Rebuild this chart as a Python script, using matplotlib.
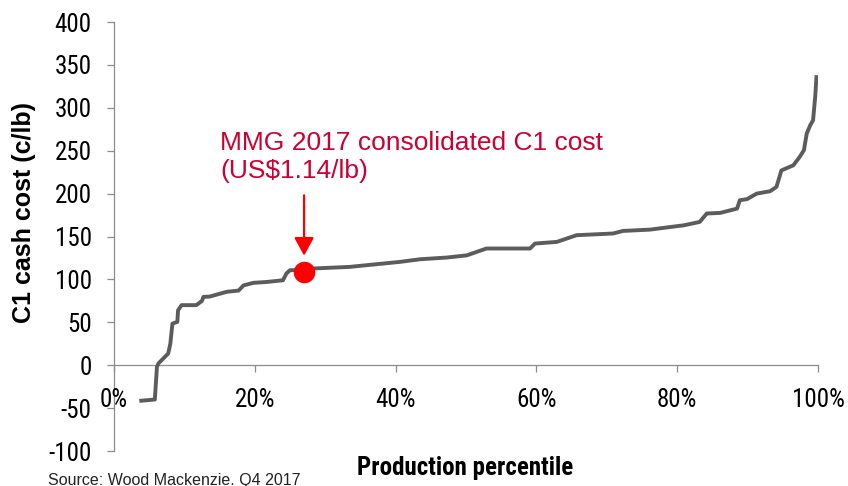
import matplotlib
matplotlib.use("Agg")
import matplotlib.pyplot as plt

# ---- data ----
pct = [3.6, 5.8, 6.1, 6.3, 7.7, 8.0, 8.3, 9.0, 9.1, 9.6, 11.7, 12.5, 12.7, 13.6,
       16.0, 17.7, 18.4, 19.8, 21.7, 24.0, 24.5, 25.0, 27.0, 28.3, 33.5, 40.6,
       43.5, 47.3, 50.1, 52.9, 59.1, 59.8, 62.9, 65.7, 70.9, 72.3, 76.1, 80.9,
       83.2, 84.2, 86.1, 88.5, 88.9, 89.9, 91.3, 93.2, 94.1, 94.8, 96.5, 97.4,
       98.0, 98.4, 98.9, 99.3, 99.6, 99.8]
cost = [-41.6, -40, -2, 2, 13.6, 25, 48.5, 50.5, 64, 70, 70, 75, 79.6, 80,
        85.5, 87, 93, 96, 97, 99, 107, 110.7, 111, 112.7, 114.6, 120.4,
        123.5, 125.5, 128, 136, 136, 141.8, 143.7, 151.5, 153.5, 156.5, 158, 163,
        167, 176.8, 177.5, 182.5, 192.3, 193.5, 200, 202.8, 207.8, 227, 233, 242.8,
        250.6, 270, 279.7, 285.5, 312.7, 338]
mmg_x = 27.0
mmg_y = 109.0

x_ticks = [0, 20, 40, 60, 80, 100]
x_tick_labels = ["0%", "20%", "40%", "60%", "80%", "100%"]
y_ticks = [-100, -50, 0, 50, 100, 150, 200, 250, 300, 350, 400]

annot_line1 = "MMG 2017 consolidated C1 cost"
annot_line2 = "(US$1.14/lb)"
x_label = "Production percentile"
y_label = "C1 cash cost (c/lb)"
source = "Source: Wood Mackenzie. Q4 2017"

# ---- style ----
NARROW = ['Liberation Sans Narrow', 'Arial Narrow', 'Roboto Condensed',
          'Archivo Narrow', 'Liberation Sans']
REG = ['Liberation Sans']
plt.rcParams['font.family'] = REG
plt.rcParams['axes.unicode_minus'] = False
W, H = 848, 486
axis_grey = "#8c8c8c"
crimson = "#CC0033"

fig = plt.figure(figsize=(W / 100, H / 100), dpi=100)
ax = fig.add_axes([114 / W, 1 - 451 / H, (818 - 114) / W, (451 - 22) / H])

ax.plot(pct, cost, color="#5c5c5c", lw=2.8, solid_joinstyle='round',
        solid_capstyle='butt', zorder=3)
ax.plot([mmg_x], [mmg_y], 'o', color="#ff0000", ms=14.5, zorder=4)
ax.annotate("", xy=(mmg_x, mmg_y), xytext=(0, 55), textcoords='offset points',
            arrowprops=dict(arrowstyle='-|>,head_length=1.1,head_width=0.6',
                            color="#ff0000", lw=1.6, shrinkA=0, shrinkB=11.5),
            zorder=5)

ax.set_xlim(0, 100)
ax.set_ylim(-100, 400)
ax.set_xticks(x_ticks)
ax.set_xticklabels(x_tick_labels)
ax.set_yticks(y_ticks)

for s in ['top', 'right']:
    ax.spines[s].set_visible(False)
ax.spines['bottom'].set_position(('data', 0))
for s in ['left', 'bottom']:
    ax.spines[s].set_color(axis_grey)
    ax.spines[s].set_linewidth(0.9)
    ax.spines[s].set_zorder(1)

ax.tick_params(axis='both', direction='out', length=5, width=0.9, color=axis_grey,
               labelsize=18, labelcolor='black', labelfontfamily=NARROW)
ax.tick_params(axis='x', pad=11.5)
ax.tick_params(axis='y', pad=11)
ax.patch.set_alpha(0)

# annotation text
fig.text(220 / W, 1 - 150 / H, annot_line1, color=crimson, fontsize=19,
         family=REG, ha='left', va='baseline')
fig.text(220 / W, 1 - 178 / H, annot_line2, color=crimson, fontsize=19,
         family=REG, ha='left', va='baseline')

# axis titles
fig.text(465 / W, 1 - 475 / H, x_label, fontsize=18, fontweight='bold',
         family=NARROW, ha='center', va='baseline')
fig.text(24 / W, 1 - 212 / H, y_label, fontsize=18, fontweight='bold',
         family=REG, rotation=90, ha='center', va='center')

# source
fig.text(48 / W, 1 - 485 / H, source, fontsize=11.5, color='#222222',
         family=REG, ha='left', va='baseline')

fig.savefig("out.png", dpi=100)
